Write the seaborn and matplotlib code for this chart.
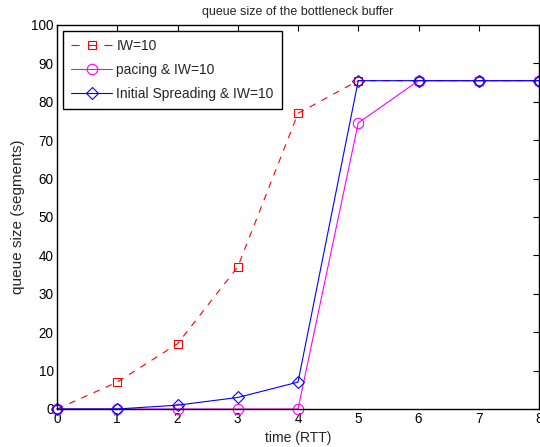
import matplotlib
matplotlib.use("Agg")
import matplotlib.pyplot as plt
import seaborn as sns
import pandas as pd

time_rtt = [0, 1, 2, 3, 4, 5, 6, 7, 8]
iw10 = [0, 7, 17, 37, 77, 85.5, 85.5, 85.5, 85.5]
pacing_iw10 = [0, 0, 0, 0, 0, 74.5, 85.5, 85.5, 85.5]
spreading_iw10 = [0, 0, 1, 3, 7, 85.5, 85.5, 85.5, 85.5]
labels = ["IW=10", "pacing & IW=10", "Initial Spreading & IW=10"]
x_ticks = [0, 1, 2, 3, 4, 5, 6, 7, 8]
y_ticks = [0, 10, 20, 30, 40, 50, 60, 70, 80, 90, 100]

sns.set_style("white")
plt.rcParams['font.family'] = ['Liberation Sans', 'DejaVu Sans']

fig = plt.figure(figsize=(5.4, 4.47), dpi=100)
ax = fig.add_axes([57/540, 38/447, 482/540, 384/447])

df = pd.DataFrame({"t": time_rtt, "a": iw10, "b": pacing_iw10, "c": spreading_iw10})

styles = [
    ("a", "#ff0000", "s", (0, (6, 6)), 6),
    ("b", "#ff00ff", "o", "-", 7.5),
    ("c", "#0000ff", "D", "-", 6.5),
]
for (col, color, marker, ls, ms), lab in zip(styles, labels):
    sns.lineplot(data=df, x="t", y=col, ax=ax, color=color, marker=marker,
                 markersize=ms, markerfacecolor="none", markeredgecolor=color,
                 markeredgewidth=0.8, linewidth=0.8, linestyle=ls, label=lab,
                 clip_on=False)

ax.set_xlim(0, 8)
ax.set_ylim(0, 100)
ax.set_xticks(x_ticks)
ax.set_yticks(y_ticks)
ax.tick_params(direction="in", top=True, right=True, length=4, width=0.8,
               labelsize=9.75, pad=2.5, colors="black")
for s in ax.spines.values():
    s.set_visible(True)
    s.set_linewidth(1.0)
    s.set_color("black")
ax.set_xlabel("time (RTT)", fontsize=10, labelpad=3.5)
ax.set_ylabel("queue size (segments)", fontsize=11, labelpad=4)
ax.set_title("queue size of the bottleneck buffer", fontsize=9, pad=7.5)

leg = ax.legend(loc="upper left", fontsize=10, frameon=True, fancybox=False,
                edgecolor="black", framealpha=1, borderaxespad=0.4,
                handlelength=2.95, handletextpad=0.3, labelspacing=0.7,
                borderpad=0.62)
leg.get_frame().set_linewidth(1.0)
leg.get_lines()[0].set_linestyle((0, (7.4, 7.4)))

fig.savefig("out.png", dpi=100)
